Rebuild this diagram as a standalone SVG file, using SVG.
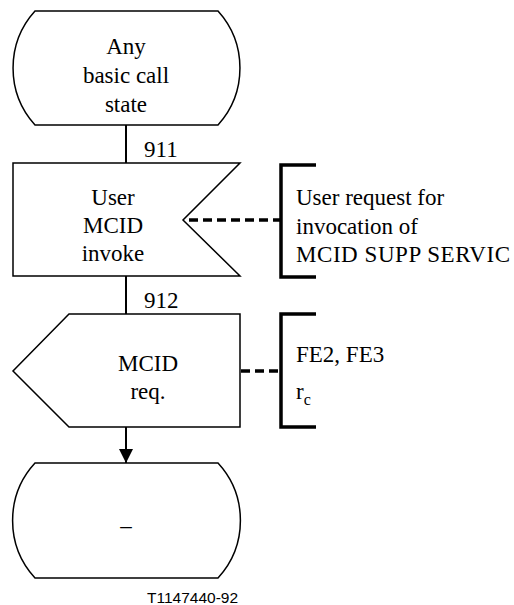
<svg xmlns="http://www.w3.org/2000/svg" width="514" height="605" viewBox="0 0 514 605">
<style>
.sym{fill:#fff;stroke:#000;stroke-width:1.5}
.t{font-family:'Liberation Serif','Times New Roman',serif;font-size:23px;fill:#000}
.c{text-anchor:middle}
.ln{stroke:#000;stroke-width:2;fill:none}
.dash{stroke:#000;stroke-width:3.5;stroke-dasharray:9 5;fill:none}
.br{stroke:#000;stroke-width:3.5;fill:none}
</style>
<defs>
<marker id="ah" markerWidth="14" markerHeight="14" refX="14" refY="7" orient="auto" markerUnits="userSpaceOnUse">
<path d="M0,0 L14,7 L0,14 Z" fill="#000"/>
</marker>
</defs>
<g id="connectors">
<line class="ln" x1="126" y1="125" x2="126" y2="163"/>
<line class="ln" x1="126" y1="276" x2="126" y2="314"/>
<line class="ln" x1="126" y1="427" x2="126" y2="463" marker-end="url(#ah)"/>
<line class="dash" x1="189" y1="220" x2="280" y2="220"/>
<line class="dash" x1="241" y1="371" x2="280" y2="371"/>
<text class="t" x="144" y="157" font-family="Liberation Serif">911</text>
<text class="t" x="144" y="308" font-family="Liberation Serif">912</text>
</g>
<g id="state1" font-family="Liberation Serif">
<path class="sym" d="M35,11 L218,11 A85,85 0 0 1 218,125 L35,125 A85,85 0 0 1 35,11 Z"/>
<text class="t c" x="126" y="54">Any</text>
<text class="t c" x="126" y="83">basic call</text>
<text class="t c" x="126" y="112">state</text>
</g>
<g id="input911">
<path class="sym" d="M13,163 L240,163 L183,220 L240,276 L13,276 Z"/>
<text class="t c" x="113" y="205">User</text>
<text class="t c" x="113" y="233">MCID</text>
<text class="t c" x="113" y="261">invoke</text>
</g>
<g id="comment1">
<path class="br" d="M316,165 L281,165 L281,277 L316,277"/>
<text class="t" x="296" y="205">User request for</text>
<text class="t" x="296" y="234">invocation of</text>
<text class="t" x="296" y="262" textLength="214" lengthAdjust="spacing">MCID SUPP SERVIC</text>
</g>
<g id="output912">
<path class="sym" d="M69,314 L240,314 L240,427 L69,427 L13,371 Z"/>
<text class="t c" x="148" y="371">MCID</text>
<text class="t c" x="148" y="399">req.</text>
</g>
<g id="comment2">
<path class="br" d="M316,314 L281,314 L281,427 L316,427"/>
<text class="t" x="296" y="362">FE2, FE3</text>
<text class="t" x="296" y="399">r<tspan font-size="16" dy="6">c</tspan></text>
</g>
<g id="state2">
<path class="sym" d="M35,463 L218,463 A85,85 0 0 1 218,578 L35,578 A85,85 0 0 1 35,463 Z"/>
<text class="t c" x="126" y="533">–</text>
</g>
<text x="147" y="603" font-family="'Liberation Sans',Arial,sans-serif" font-size="15.5" fill="#000">T1147440-92</text>
</svg>
